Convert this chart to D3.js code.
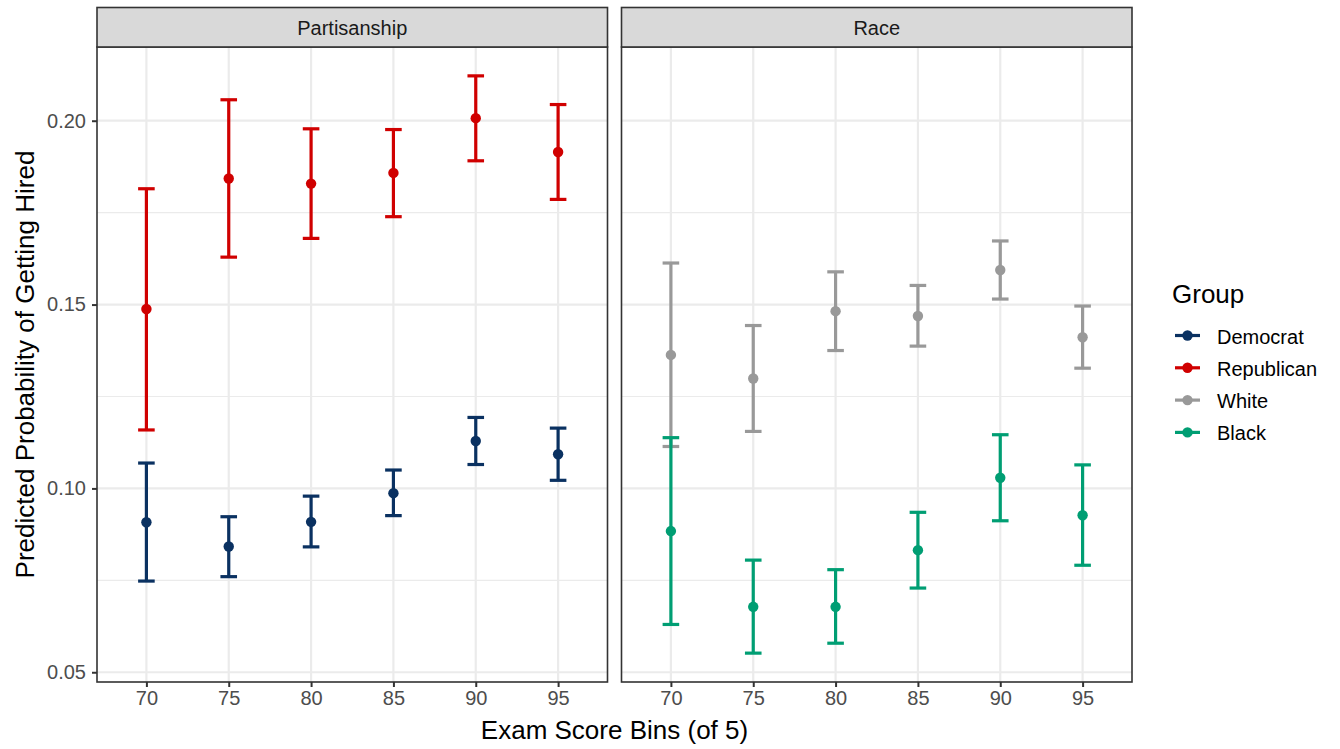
<!DOCTYPE html>
<html>
<head>
    <title>Predicted Probability of Getting Hired</title>
    <script src="https://d3js.org/d3.v7.min.js"></script>
    <style>
        body {
            margin: 0;
            background: #fff;
        }
        text {
            font-family: "Liberation Sans", Arial, Helvetica, sans-serif;
        }
    </style>
</head>
<body>
    <svg id="chart" width="1340" height="749"></svg>
    <script>
        // exam score bins (x categories)
        const bins = [70, 75, 80, 85, 90, 95];
        const yTicks = [0.05, 0.10, 0.15, 0.20];
        const yMinor = [0.075, 0.125, 0.175];
        const facets = ['Partisanship', 'Race'];
        const groups = ['Democrat', 'Republican', 'White', 'Black'];
        const groupFacet = ['Partisanship', 'Partisanship', 'Race', 'Race'];
        const groupColors = ['#0A3161', '#D00000', '#999999', '#009E73'];

        // point estimates and 95% intervals, read per bin
        const democratEst = [0.0908, 0.0842, 0.0909, 0.0987, 0.1129, 0.1093];
        const democratLow = [0.0748, 0.0760, 0.0841, 0.0926, 0.1065, 0.1022];
        const democratHigh = [0.1069, 0.0923, 0.0979, 0.1050, 0.1193, 0.1164];

        const republicanEst = [0.1488, 0.1843, 0.1829, 0.1858, 0.2007, 0.1915];
        const republicanLow = [0.1159, 0.1629, 0.1680, 0.1739, 0.1891, 0.1786];
        const republicanHigh = [0.1815, 0.2057, 0.1978, 0.1976, 0.2122, 0.2044];

        const whiteEst = [0.1363, 0.1299, 0.1482, 0.1469, 0.1594, 0.1411];
        const whiteLow = [0.1114, 0.1155, 0.1375, 0.1387, 0.1515, 0.1327];
        const whiteHigh = [0.1613, 0.1443, 0.1589, 0.1552, 0.1673, 0.1496];

        const blackEst = [0.0884, 0.0678, 0.0678, 0.0832, 0.1029, 0.0927];
        const blackLow = [0.0630, 0.0552, 0.0579, 0.0729, 0.0912, 0.0791];
        const blackHigh = [0.1138, 0.0805, 0.0779, 0.0935, 0.1146, 0.1064];

        const seriesEst = [democratEst, republicanEst, whiteEst, blackEst];
        const seriesLow = [democratLow, republicanLow, whiteLow, blackLow];
        const seriesHigh = [democratHigh, republicanHigh, whiteHigh, blackHigh];

        const rows = [];
        groups.forEach((g, gi) => {
            bins.forEach((b, bi) => {
                rows.push({
                    group: g, facet: groupFacet[gi], bin: b,
                    est: seriesEst[gi][bi], low: seriesLow[gi][bi], high: seriesHigh[gi][bi]
                });
            });
        });

        const svg = d3.select('#chart');
        const color = d3.scaleOrdinal().domain(groups).range(groupColors);

        const panelTop = 47, panelBottom = 682;
        const panelLefts = [97, 621.5];
        const panelW = 510.5;
        const stripTop = 7.5;
        const dark = '#333333';
        const smallFont = 20;
        const titleFont = 26;

        // ggplot-style expanded range
        const lo = d3.min(rows, d => d.low), hi = d3.max(rows, d => d.high);
        const pad = (hi - lo) * 0.05;
        const y = d3.scaleLinear().domain([lo - pad, hi + pad]).range([panelBottom, panelTop]);

        facets.forEach((f, fi) => {
            const left = panelLefts[fi];
            const x = d3.scalePoint().domain(bins).range([left, left + panelW]).padding(0.6);
            const g = svg.append('g');

            // grid
            g.selectAll('.minor').data(yMinor).enter().append('line')
                .attr('x1', left).attr('x2', left + panelW)
                .attr('y1', d => y(d)).attr('y2', d => y(d))
                .attr('stroke', '#EBEBEB').attr('stroke-width', 1.1);
            g.selectAll('.majorY').data(yTicks).enter().append('line')
                .attr('x1', left).attr('x2', left + panelW)
                .attr('y1', d => y(d)).attr('y2', d => y(d))
                .attr('stroke', '#EBEBEB').attr('stroke-width', 2.2);
            g.selectAll('.majorX').data(bins).enter().append('line')
                .attr('x1', d => x(d)).attr('x2', d => x(d))
                .attr('y1', panelTop).attr('y2', panelBottom)
                .attr('stroke', '#EBEBEB').attr('stroke-width', 2.2);

            // error bars
            const data = rows.filter(d => d.facet === f);
            const capHalf = 8.3;
            const bars = g.selectAll('.bar').data(data).enter().append('g')
                .attr('stroke', d => color(d.group))
                .attr('stroke-width', 3.2);
            bars.append('line')
                .attr('x1', d => x(d.bin)).attr('x2', d => x(d.bin))
                .attr('y1', d => y(d.low)).attr('y2', d => y(d.high));
            bars.append('line')
                .attr('x1', d => x(d.bin) - capHalf).attr('x2', d => x(d.bin) + capHalf)
                .attr('y1', d => y(d.high)).attr('y2', d => y(d.high));
            bars.append('line')
                .attr('x1', d => x(d.bin) - capHalf).attr('x2', d => x(d.bin) + capHalf)
                .attr('y1', d => y(d.low)).attr('y2', d => y(d.low));
            g.selectAll('.pt').data(data).enter().append('circle')
                .attr('cx', d => x(d.bin)).attr('cy', d => y(d.est))
                .attr('r', 5.2).attr('fill', d => color(d.group));

            // border
            g.append('rect')
                .attr('x', left).attr('y', panelTop)
                .attr('width', panelW).attr('height', panelBottom - panelTop)
                .attr('fill', 'none').attr('stroke', dark).attr('stroke-width', 1.6);

            // strip
            g.append('rect')
                .attr('x', left).attr('y', stripTop)
                .attr('width', panelW).attr('height', panelTop - stripTop)
                .attr('fill', '#D9D9D9').attr('stroke', dark).attr('stroke-width', 1.6);
            g.append('text')
                .attr('x', left + panelW / 2).attr('y', (stripTop + panelTop) / 2 + 1)
                .attr('text-anchor', 'middle').attr('dominant-baseline', 'central')
                .attr('font-size', smallFont).attr('fill', '#1A1A1A')
                .text(f);

            // x axis
            const xAxis = g.append('g')
                .attr('transform', `translate(0,${panelBottom})`)
                .call(d3.axisBottom(x).tickSize(5).tickPadding(4));
            xAxis.select('.domain').remove();
            xAxis.selectAll('line').attr('stroke', dark).attr('stroke-width', 2);
            xAxis.selectAll('text').attr('font-size', smallFont).attr('fill', '#4D4D4D')
                .attr('font-family', '"Liberation Sans", Arial, sans-serif');

            // y axis only on first panel
            if (fi === 0) {
                const yAxis = g.append('g')
                    .attr('transform', `translate(${left},0)`)
                    .call(d3.axisLeft(y).tickValues(yTicks).tickFormat(d3.format('.2f')).tickSize(5).tickPadding(6));
                yAxis.select('.domain').remove();
                yAxis.selectAll('line').attr('stroke', dark).attr('stroke-width', 2);
                yAxis.selectAll('text').attr('font-size', smallFont).attr('fill', '#4D4D4D')
                    .attr('font-family', '"Liberation Sans", Arial, sans-serif');
            }
        });

        // axis titles
        svg.append('text')
            .attr('x', (panelLefts[0] + panelLefts[1] + panelW) / 2).attr('y', 739)
            .attr('text-anchor', 'middle').attr('font-size', titleFont)
            .text('Exam Score Bins (of 5)');
        svg.append('text')
            .attr('transform', `translate(34,${(panelTop + panelBottom) / 2}) rotate(-90)`)
            .attr('text-anchor', 'middle').attr('font-size', titleFont)
            .text('Predicted Probability of Getting Hired');

        // legend
        const legend = svg.append('g').attr('transform', 'translate(1172,0)');
        legend.append('text')
            .attr('x', 0).attr('y', 303)
            .attr('font-size', titleFont)
            .text('Group');
        const items = legend.selectAll('.item').data(groups).enter().append('g')
            .attr('transform', (d, i) => `translate(0,${335.5 + i * 32.3})`);
        items.append('line')
            .attr('x1', 3).attr('x2', 28).attr('y1', 0).attr('y2', 0)
            .attr('stroke', d => color(d)).attr('stroke-width', 3.2);
        items.append('circle')
            .attr('cx', 15.5).attr('cy', 0).attr('r', 5.2)
            .attr('fill', d => color(d));
        items.append('text')
            .attr('x', 45).attr('y', 1)
            .attr('dominant-baseline', 'central')
            .attr('font-size', smallFont)
            .text(d => d);
    </script>
</body>
</html>
